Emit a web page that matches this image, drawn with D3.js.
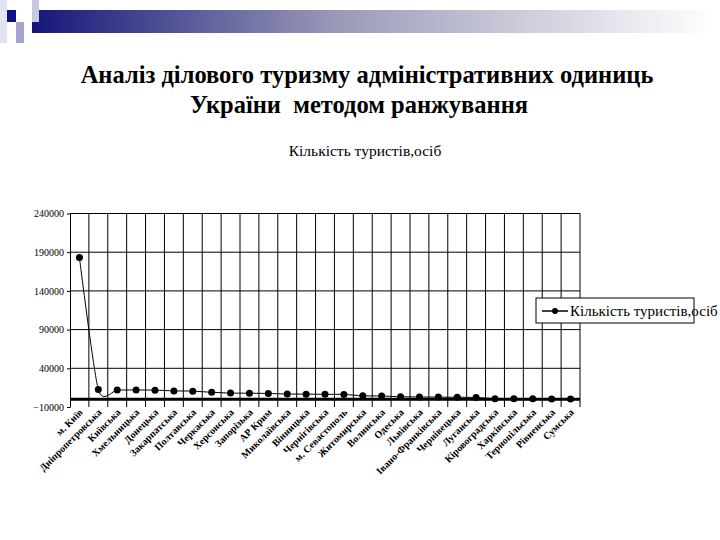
<!DOCTYPE html>
<html lang="uk">
<head>
    <meta charset="UTF-8">
    <title>Аналіз ділового туризму</title>
    <script src="https://d3js.org/d3.v7.min.js"></script>
    <style>
        body { margin: 0; background: #fff; }
        svg text { font-family: "Liberation Serif", "DejaVu Serif", serif; }
    </style>
</head>
<body>
    <div id="chart"></div>
    <script>
        const regions = [
            "м. Київ", "Дніпропетровська", "Київська", "Хмельницька", "Донецька",
            "Закарпатська", "Полтавська", "Черкаська", "Херсонська", "Запорізька",
            "АР Крим", "Миколаївська", "Вінницька", "Чернігівська", "м. Севастополь",
            "Житомирська", "Волинська", "Одеська", "Львівська", "Івано-Франківська",
            "Чернівецька", "Луганська", "Кіровоградська", "Харківська", "Тернопільська",
            "Рівненська", "Сумська"
        ];
        const tourists = [
            183000, 12500, 12000, 12000, 11800,
            10800, 10500, 9000, 8000, 7800,
            7500, 6800, 6600, 6400, 6200,
            4500, 4200, 3300, 3000, 2800,
            2600, 2300, 800, 600, 500,
            400, 300
        ];
        const yTicks = [-10000, 40000, 90000, 140000, 190000, 240000];
        const seriesName = "Кількість туристів,осіб";

        const width = 720, height = 540;
        const plot = { left: 70, right: 580, top: 213.5, bottom: 407 };
        const serif = "'Liberation Serif', 'DejaVu Serif', serif";

        const svg = d3.select("#chart").append("svg")
            .attr("width", width)
            .attr("height", height)
            .attr("font-family", serif);

        // decorative header
        const defs = svg.append("defs");
        const grad = defs.append("linearGradient").attr("id", "bar");
        grad.append("stop").attr("offset", "0%").attr("stop-color", "#16167a");
        grad.append("stop").attr("offset", "45%").attr("stop-color", "#9a9ab8");
        grad.append("stop").attr("offset", "100%").attr("stop-color", "#ffffff");
        svg.append("rect").attr("x", 0).attr("y", 0).attr("width", 7).attr("height", 43).attr("fill", "#e4e4f0");
        svg.append("rect").attr("x", 32).attr("y", 10).attr("width", 680).attr("height", 23).attr("fill", "url(#bar)");
        svg.append("rect").attr("x", 32).attr("y", 0).attr("width", 7).attr("height", 22).attr("fill", "#c8c8e0");
        svg.append("rect").attr("x", 7).attr("y", 10).attr("width", 9).attr("height", 12).attr("fill", "#10108a");
        svg.append("rect").attr("x", 16).attr("y", 22).attr("width", 8).attr("height", 21).attr("fill", "#a4a4d0");

        svg.append("text")
            .attr("x", 367).attr("y", 83)
            .attr("text-anchor", "middle")
            .style("font-family", serif)
            .style("font-size", "24.5px").style("font-weight", "bold")
            .text("Аналіз ділового туризму адміністративних одиниць");
        svg.append("text")
            .attr("x", 359).attr("y", 113)
            .attr("text-anchor", "middle")
            .style("font-family", serif)
            .style("font-size", "24.5px").style("font-weight", "bold")
            .style("white-space", "pre")
            .text("України  методом ранжування");

        svg.append("text")
            .attr("x", 365).attr("y", 156)
            .attr("text-anchor", "middle")
            .style("font-family", serif)
            .style("font-size", "15.5px")
            .text(seriesName);

        const x = d3.scaleBand().domain(regions).range([plot.left, plot.right]);
        const y = d3.scaleLinear().domain([-10000, 240000]).range([plot.bottom, plot.top]);

        // horizontal gridlines
        svg.append("g").selectAll("line")
            .data(yTicks.slice(1))
            .join("line")
            .attr("x1", plot.left).attr("x2", plot.right)
            .attr("y1", d => y(d)).attr("y2", d => y(d))
            .attr("stroke", "#000").attr("stroke-width", 1);

        // vertical gridlines at category boundaries
        svg.append("g").selectAll("line")
            .data(regions)
            .join("line")
            .attr("x1", d => x(d) + x.bandwidth()).attr("x2", d => x(d) + x.bandwidth())
            .attr("y1", plot.top).attr("y2", plot.bottom)
            .attr("stroke", "#000").attr("stroke-width", 1);

        // y axis
        const yAxis = svg.append("g")
            .attr("transform", `translate(${plot.left},0)`)
            .call(d3.axisLeft(y).tickValues(yTicks).tickSize(3).tickSizeOuter(0).tickFormat(d3.format("d")));
        yAxis.select(".domain").attr("stroke", "#000");
        yAxis.selectAll("text")
            .style("font-family", serif)
            .style("font-size", "10px")
            .attr("x", -6);

        // x axis at zero
        svg.append("line")
            .attr("x1", plot.left).attr("x2", plot.right)
            .attr("y1", y(0)).attr("y2", y(0))
            .attr("stroke", "#000").attr("stroke-width", 3);

        // category labels
        svg.append("g").selectAll("text")
            .data(regions)
            .join("text")
            .attr("transform", d => `translate(${x(d) + x.bandwidth() / 2 + 4},${plot.bottom + 6}) rotate(-45)`)
            .attr("text-anchor", "end")
            .style("font-family", serif)
            .style("font-size", "10px")
            .style("font-weight", "bold")
            .text(d => d);

        // series
        const pts = regions.map((r, i) => [x(r) + x.bandwidth() / 2, y(tourists[i])]);
        svg.append("path")
            .attr("d", d3.line().curve(d3.curveCardinal.tension(0.3))(pts))
            .attr("fill", "none")
            .attr("stroke", "#000")
            .attr("stroke-width", 1);
        svg.append("g").selectAll("circle")
            .data(pts)
            .join("circle")
            .attr("cx", d => d[0]).attr("cy", d => d[1])
            .attr("r", 3.5)
            .attr("fill", "#000");

        // legend
        const lg = svg.append("g").attr("transform", "translate(536,298)");
        lg.append("rect").attr("width", 158).attr("height", 25)
            .attr("fill", "#fff").attr("stroke", "#000").attr("stroke-width", 1);
        lg.append("line").attr("x1", 6).attr("x2", 32).attr("y1", 13).attr("y2", 13)
            .attr("stroke", "#000").attr("stroke-width", 1.5);
        lg.append("circle").attr("cx", 19).attr("cy", 13).attr("r", 3).attr("fill", "#000");
        lg.append("text").attr("x", 34).attr("y", 18)
            .style("font-family", serif)
            .style("font-size", "15px")
            .text(seriesName);
    </script>
</body>
</html>
